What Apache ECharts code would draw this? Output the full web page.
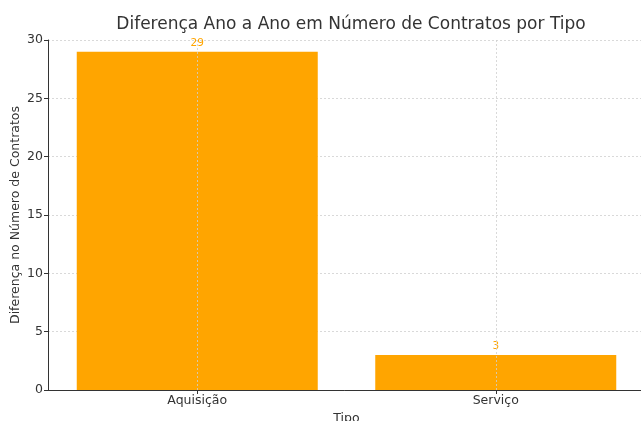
<!DOCTYPE html>
<html><head><meta charset="utf-8">
<script src="https://cdn.jsdelivr.net/npm/echarts@6/dist/echarts.min.js"></script>
<style>html,body{margin:0;padding:0;background:#fff}#c{width:641px;height:421px}</style>
</head><body><div id="c"></div>
<script>
const categories = ['Aquisição', 'Serviço'];
const values = [29, 3];
const yTicks = [0, 5, 10, 15, 20, 25, 30];

const chart = echarts.init(document.getElementById('c'), null, {renderer: 'canvas'});
const font = 'DejaVu Sans';
chart.setOption({
  animation: false,
  textStyle: {fontFamily: font},
  title: {
    text: 'Diferença Ano a Ano em Número de Contratos por Tipo',
    left: 346, top: 11, textAlign: 'center',
    textStyle: {fontFamily: font, fontSize: 17, fontWeight: 'normal', color: '#333'}
  },
  grid: {left: 48, right: -4, top: 40, bottom: 31, containLabel: false, outerBoundsMode: 'none'},
  xAxis: {
    type: 'category', data: categories, boundaryGap: true,
    name: 'Tipo', nameLocation: 'middle', nameGap: 16,
    nameTextStyle: {fontFamily: font, fontSize: 12.5, color: '#333'},
    axisLine: {lineStyle: {color: '#333', width: 1}},
    axisTick: {show: true, alignWithLabel: true, length: 4, lineStyle: {color: '#333'}},
    axisLabel: {fontFamily: font, fontSize: 12.5, color: '#333', margin: 4},
    splitLine: {show: false}
  },
  yAxis: {
    type: 'value', min: 0, max: 30, interval: 5,
    name: 'Diferença no Número de Contratos', nameLocation: 'middle', nameGap: 26,
    nameMoveOverlap: false,
    nameTextStyle: {fontFamily: font, fontSize: 12.5, color: '#333'},
    axisLine: {show: true, lineStyle: {color: '#333', width: 1}},
    axisTick: {show: true, length: 4, lineStyle: {color: '#333'}},
    axisLabel: {fontFamily: font, fontSize: 12.5, color: '#333', margin: 5},
    splitLine: {show: true, lineStyle: {color: '#d0d0d0', type: [2, 2], width: 0.8}}
  },
  series: [{
    type: 'bar', data: values, barWidth: 241,
    itemStyle: {color: '#FFA500'},
    label: {show: true, position: 'top', distance: 3, color: '#FFA500', fontSize: 10.5, fontFamily: font},
    markLine: {
      silent: true, symbol: 'none', label: {show: false},
      lineStyle: {color: '#d0d0d0', type: [2, 2], width: 0.8},
      data: categories.map(c => ({xAxis: c}))
    },
    z: 2
  }]
});
</script></body></html>
